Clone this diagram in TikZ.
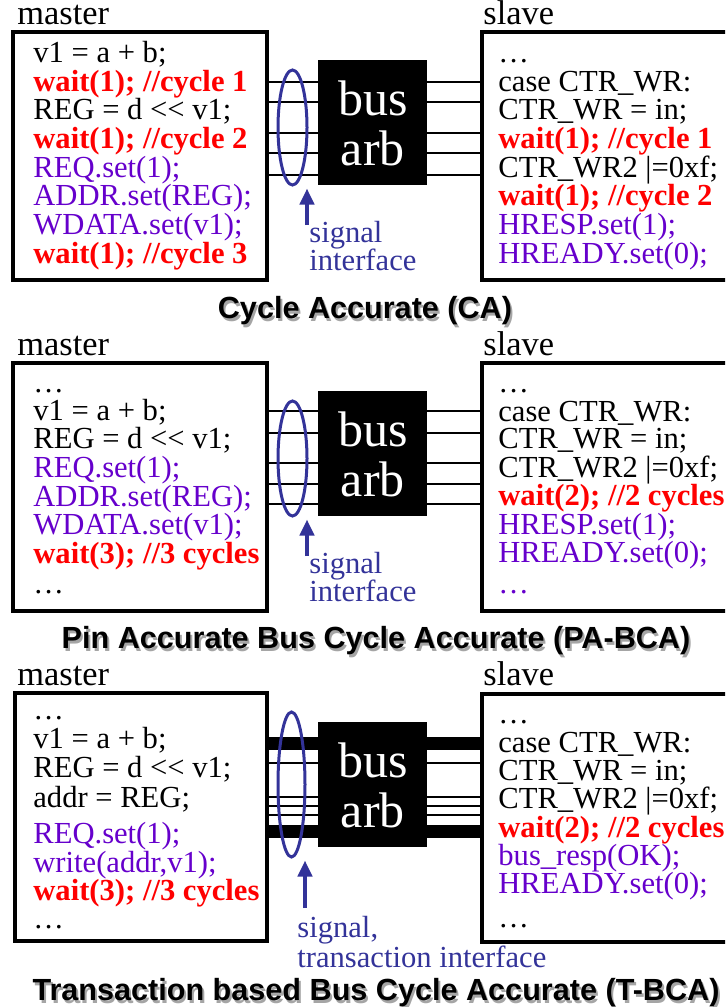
\documentclass[tikz,border=0pt]{standalone}
\usepackage{fontspec}
\setmainfont{Liberation Serif}
\newfontfamily\titlefont{Liberation Sans}
\usetikzlibrary{shapes.geometric,arrows.meta}
\definecolor{waitred}{RGB}{255,0,0}
\definecolor{callpurple}{RGB}{102,0,204}
\definecolor{sigblue}{RGB}{51,51,153}
\definecolor{shadowgray}{RGB}{165,165,165}
\newcommand\waitln[1]{\textcolor{waitred}{\bfseries #1}}
\newcommand\callln[1]{\textcolor{callpurple}{#1}}
\tikzset{
  code/.style={anchor=base west, inner sep=0pt, font=\fontsize{15.3}{17}\selectfont},
  who/.style={anchor=base west, inner sep=0pt, font=\fontsize{17.2}{20}\selectfont},
  modbox/.style={draw, line width=2pt, inner sep=0pt, anchor=north west, minimum height=124pt},
  arbbox/.style={fill=black, text=white, inner sep=0pt, anchor=north west, align=center,
    minimum width=54.5pt, minimum height=62.5pt, font=\fontsize{25}{25}\selectfont},
  wire/.style={line width=1pt},
  fatwire/.style={line width=6.5pt},
  bundle/.style={draw=sigblue, line width=1.5pt, ellipse, inner sep=0pt},
  sigarrow/.style={draw=sigblue, line width=2pt, shorten >=1pt, -{Triangle[length=8pt,width=7pt]}},
  siglabel/.style={anchor=base west, inner sep=0pt, text=sigblue, font=\fontsize{15.3}{17}\selectfont},
  title/.style={anchor=base, inner sep=0pt, font=\titlefont\bfseries\fontsize{15.3}{18}\selectfont},
}
\begin{document}
\begin{tikzpicture}[x=0.5pt, y=-0.5pt]
  \useasboundingbox (0,0) rectangle (725,1007);
  \clip (0,0) rectangle (725,1007);

  % cycle accurate
  \foreach \y in {82,102,133,153,175} {
    \draw[wire] (265,\y) -- (318,\y);
    \draw[wire] (427,\y) -- (480,\y);
  }
  \node[who] (mlab1) at (17,24) {master};
  \node[who] (slab1) at (483,24) {slave};
  \node[modbox, minimum width=127.25pt] (mst1) at (10.5,30) {};
  \node[modbox, minimum width=150pt] (slv1) at (479.5,30) {};
  \node[arbbox] (arb1) at (318,60) {bus\\arb};
  \node[bundle, minimum width=14.5pt, minimum height=57.5pt] (bundle1) at (292.5,127.5) {};
  \coordinate (sig1) at (307,225);
  \draw[sigarrow] (sig1) -- (sig1 |- bundle1.south);
  \node[siglabel] (sigtxt1) at (309,242) {signal};
  \node[siglabel] (iftxt1) at (309,270) {interface};
  \foreach \y/\txt [count=\i] in {62/{v1 = a + b;}, 91/{\waitln{wait(1); //cycle 1}},
      119/{REG = d <\kern0pt< v1;}, 148/{\waitln{wait(1); //cycle 2}}, 177/{\callln{REQ.set(1);}},
      205/{\callln{ADDR.set(REG);}}, 234/{\callln{WDATA.set(v1);}}, 263/{\waitln{wait(1); //cycle 3}}}
    \node[code] (m1-\i) at (33,\y) {\txt};
  \foreach \y/\txt [count=\i] in {62/{…}, 91/{case CTR\_WR:}, 119/{CTR\_WR = in;},
      148/{\waitln{wait(1); //cycle 1}}, 177/{CTR\_WR2 |=0xf;}, 205/{\waitln{wait(1); //cycle 2}},
      234/{\callln{HRESP.set(1);}}, 263/{\callln{HREADY.set(0);}}}
    \node[code] (s1-\i) at (498,\y) {\txt};
  \node[title, text=shadowgray] (ttl1s) at (367,321) {Cycle Accurate (CA)};
  \node[title] (ttl1) at (365,318) {Cycle Accurate (CA)};

  % pin accurate bus cycle accurate
  \begin{scope}[shift={(0,331)}]
    \foreach \y in {80,102,132,153,173} {
      \draw[wire] (265,\y) -- (318,\y);
      \draw[wire] (427,\y) -- (480,\y);
    }
    \node[who] (mlab2) at (17,24) {master};
    \node[who] (slab2) at (483,24) {slave};
    \node[modbox, minimum width=127.25pt] (mst2) at (10.5,30) {};
    \node[modbox, minimum width=150pt] (slv2) at (479.5,30) {};
    \node[arbbox] (arb2) at (318,60) {bus\\arb};
    \node[bundle, minimum width=14.5pt, minimum height=57.5pt] (bundle2) at (292.5,127.5) {};
    \coordinate (sig2) at (307,225);
    \draw[sigarrow] (sig2) -- (sig2 |- bundle2.south);
    \node[siglabel] (sigtxt2) at (309,242) {signal};
    \node[siglabel] (iftxt2) at (309,270) {interface};
    \foreach \y/\txt [count=\i] in {61/{…}, 89/{v1 = a + b;}, 117/{REG = d <\kern0pt< v1;},
        146/{\callln{REQ.set(1);}}, 175/{\callln{ADDR.set(REG);}}, 203/{\callln{WDATA.set(v1);}},
        232/{\waitln{wait(3); //3 cycles}}, 262/{…}}
      \node[code] (m2-\i) at (33,\y) {\txt};
    \foreach \y/\txt [count=\i] in {61/{…}, 90/{case CTR\_WR:}, 117/{CTR\_WR = in;},
        146/{CTR\_WR2 |=0xf;}, 174/{\waitln{wait(2); //2 cycles}}, 203/{\callln{HRESP.set(1);}},
        231/{\callln{HREADY.set(0);}}, 262/{\callln{…}}}
      \node[code] (s2-\i) at (498,\y) {\txt};
    \node[title, text=shadowgray] (ttl2s) at (378,320) {Pin Accurate Bus Cycle Accurate (PA-BCA)};
    \node[title] (ttl2) at (376,317) {Pin Accurate Bus Cycle Accurate (PA-BCA)};
  \end{scope}

  % transaction based bus cycle accurate
  \begin{scope}[shift={(0,661)}]
    \foreach \y in {102,136,145,154} {
      \draw[wire] (265,\y) -- (318,\y);
      \draw[wire] (427,\y) -- (480,\y);
    }
    \foreach \y in {82,170} {
      \draw[fatwire] (265,\y) -- (318,\y);
      \draw[fatwire] (427,\y) -- (480,\y);
    }
    \node[who] (mlab3) at (17,24) {master};
    \node[who] (slab3) at (483,24) {slave};
    \node[modbox, minimum width=126.25pt] (mst3) at (12.5,30) {};
    \node[modbox, minimum width=150pt] (slv3) at (479.5,31) {};
    \node[arbbox] (arb3) at (318,61) {bus\\arb};
    \node[bundle, minimum width=13.5pt, minimum height=72.5pt] (bundle3) at (291.5,123.5) {};
    \coordinate (sig3) at (305,247);
    \draw[sigarrow] (sig3) -- (sig3 |- bundle3.south);
    \node[siglabel] (sigtxt3) at (297,276) {signal,};
    \node[siglabel] (iftxt3) at (297,306) {transaction interface};
    \foreach \y/\txt [count=\i] in {58/{…}, 87/{v1 = a + b;}, 116/{REG = d <\kern0pt< v1;},
        146/{addr = REG;}, 182/{\callln{REQ.set(1);}}, 211/{\callln{write(addr,v1);}},
        239/{\waitln{wait(3); //3 cycles}}, 267/{…}}
      \node[code] (m3-\i) at (33,\y) {\txt};
    \foreach \y/\txt [count=\i] in {62/{…}, 91/{case CTR\_WR:}, 119/{CTR\_WR = in;},
        147/{CTR\_WR2 |=0xf;}, 176/{\waitln{wait(2); //2 cycles}}, 204/{\callln{bus\_resp(OK);}},
        232/{\callln{HREADY.set(0);}}, 266/{…}}
      \node[code] (s3-\i) at (498,\y) {\txt};
    \node[title, text=shadowgray] (ttl3s) at (378,342) {Transaction based Bus Cycle Accurate (T-BCA)};
    \node[title] (ttl3) at (376,339) {Transaction based Bus Cycle Accurate (T-BCA)};
  \end{scope}
\end{tikzpicture}
\end{document}
